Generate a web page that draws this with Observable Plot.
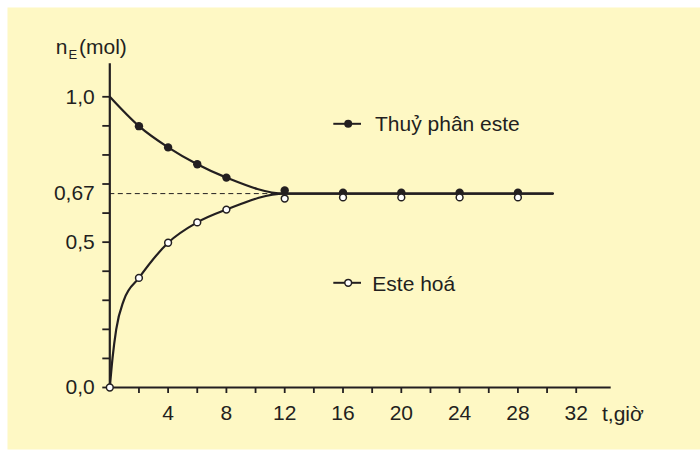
<!DOCTYPE html>
<html><head><meta charset="utf-8">
<script src="https://cdn.jsdelivr.net/npm/d3@7"></script>
<script src="https://cdn.jsdelivr.net/npm/@observablehq/plot@0.6"></script>
<style>
html,body{margin:0;padding:0;background:#ffffff;}
#chart{width:700px;height:457px;}
</style></head><body><div id="chart"></div>
<script>
// ---- Data ----
const hydroT = [2, 4, 6, 8, 12, 16, 20, 24, 28];
const hydroN = [0.899, 0.826, 0.768, 0.722, 0.678, 0.670, 0.670, 0.670, 0.670];
const esterT = [0, 2, 4, 6, 8, 12, 16, 20, 24, 28];
const esterN = [0, 0.377, 0.498, 0.568, 0.612, 0.650, 0.654, 0.654, 0.654, 0.654];
// smooth curves as drawn in the picture
const hydroCurveT = [0, 2, 4, 6, 8, 12, 30.4];
const hydroCurveN = [1.0, 0.899, 0.826, 0.768, 0.722, 0.667, 0.667];
const esterCurveT = [0, 0.185, 0.44, 0.96, 2, 4, 6, 8, 12, 30.4];
const esterCurveN = [0, 0.1, 0.2, 0.3, 0.377, 0.498, 0.568, 0.612, 0.667, 0.667];
const equilibrium = 0.667;
const equilibriumT = 12;
const equilibriumLabel = "0,67";
const xTicks = [2, 4, 6, 8, 10, 12, 14, 16, 18, 20, 22, 24, 26, 28, 30, 32];
const xLabelled = [4, 8, 12, 16, 20, 24, 28, 32];
const yTicks = [0, 0.1, 0.2, 0.3, 0.4, 0.5, 0.6, 0.7, 0.8, 0.9, 1.0];
const yTickLabels = ["0,0", "", "", "", "", "0,5", "", "", "", "", "1,0"];
const seriesNames = ["Thuỷ phân este", "Este hoá"];
const xAxisLabel = "t,giờ";
const yAxisLabel = ["n", "E", "(mol)"];

// ---- Layout ----
const W = 700, H = 457;
const mL = 109.3, mR = 89.3, mT = 63.3, mB = 70;
const xMax = 34.4, yMax = 1.1135;
const ink = "#231f20";
const bg = "#fef8c4";
const font = "'Liberation Sans', Arial, Helvetica, sans-serif";
const xOf = px => (px - mL) / (W - mL - mR) * xMax;
const yOf = py => (H - mB - py) / (H - mB - mT) * yMax;

const chart = Plot.plot({
  width: W, height: H,
  marginLeft: mL, marginRight: mR, marginTop: mT, marginBottom: mB,
  x: {domain: [0, xMax]},
  y: {domain: [0, yMax]},
  style: {background: "transparent", fontFamily: font, fontSize: "21px", color: ink, overflow: "visible"},
  marks: [
    Plot.frame({fill: bg, stroke: null, insetLeft: -(mL - 7), insetTop: -(mT - 7), insetRight: -mR, insetBottom: -(mB - 8)}),
    // dashed equilibrium line
    Plot.ruleY([equilibrium], {x1: 0, x2: equilibriumT, stroke: ink, strokeWidth: 1, strokeDasharray: "5,3.5"}),
    // curves
    Plot.line(hydroCurveT, {x: hydroCurveT, y: hydroCurveN, curve: "monotone-x", stroke: ink, strokeWidth: 2.2}),
    Plot.line(esterCurveT, {x: esterCurveT, y: esterCurveN, curve: "monotone-x", stroke: ink, strokeWidth: 2.2}),
    // axes lines
    Plot.ruleX([0], {y1: 0, y2: yMax, stroke: ink, strokeWidth: 2.2}),
    Plot.ruleY([0], {x1: 0, x2: xMax, stroke: ink, strokeWidth: 2.2}),
    // ticks & labels
    Plot.axisX({ticks: xTicks, tickSize: 6, tickPadding: 12, label: null, color: ink, strokeWidth: 1.8, fontSize: 21,
      tickFormat: d => xLabelled.includes(d) ? String(d) : ""}),
    Plot.axisY({ticks: yTicks, tickSize: 7, tickPadding: 8, label: null, color: ink, strokeWidth: 1.8, fontSize: 21,
      tickFormat: d => yTickLabels[Math.round(d * 10)]}),
    Plot.axisY({ticks: [equilibrium], tickSize: 0, tickPadding: 15, label: null, color: ink, fontSize: 21,
      tickFormat: () => equilibriumLabel}),
    // markers
    Plot.dot(hydroT, {x: hydroT, y: hydroN, r: 4.2, fill: ink, stroke: "none"}),
    Plot.dot(esterT, {x: esterT, y: esterN, r: 3.4, fill: "#ffffff", stroke: ink, strokeWidth: 1.5}),
    // legend
    Plot.ruleY([yOf(123.3)], {x1: xOf(333.3), x2: xOf(361), stroke: ink, strokeWidth: 2}),
    Plot.dot([0], {x: xOf(347.7), y: yOf(123.3), r: 4, fill: ink, stroke: "none"}),
    Plot.text([seriesNames[0]], {x: xOf(374.5), y: yOf(130), text: d => d, textAnchor: "start", lineAnchor: "bottom", fontSize: 21, fill: ink}),
    Plot.ruleY([yOf(282.3)], {x1: xOf(333.3), x2: xOf(361), stroke: ink, strokeWidth: 2}),
    Plot.dot([0], {x: xOf(347.7), y: yOf(282.3), r: 3.4, fill: "#ffffff", stroke: ink, strokeWidth: 1.5}),
    Plot.text([seriesNames[1]], {x: xOf(371.8), y: yOf(290), text: d => d, textAnchor: "start", lineAnchor: "bottom", fontSize: 21, fill: ink}),
    // axis titles
    Plot.text([xAxisLabel], {frameAnchor: "bottom-left", dx: 601.5 - mL, dy: 420 - (H - mB), text: d => d, textAnchor: "start", lineAnchor: "bottom", fontSize: 21, fill: ink}),
    Plot.text([yAxisLabel[0]], {frameAnchor: "top-left", dx: 55.3 - mL, dy: 53.3 - mT, text: d => d, textAnchor: "start", lineAnchor: "bottom", fontSize: 21, fill: ink}),
    Plot.text([yAxisLabel[1]], {frameAnchor: "top-left", dx: 68 - mL, dy: 58.3 - mT, text: d => d, textAnchor: "start", lineAnchor: "bottom", fontSize: 13, fill: ink}),
    Plot.text([yAxisLabel[2]], {frameAnchor: "top-left", dx: 78.5 - mL, dy: 53.3 - mT, text: d => d, textAnchor: "start", lineAnchor: "bottom", fontSize: 21, fill: ink})
  ]
});
document.getElementById("chart").appendChild(chart);
</script></body></html>
